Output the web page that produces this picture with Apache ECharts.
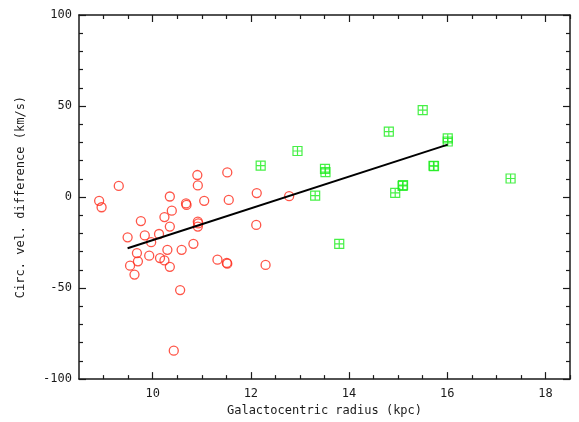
<!DOCTYPE html>
<html>
<head>
<meta charset="UTF-8">
<script src="https://cdn.jsdelivr.net/npm/echarts@6/dist/echarts.min.js"></script>
<title>Circ. vel. difference</title>
<style>
body {
	margin: 0;
	background: #fff;
}

#main {
	width: 579px;
	height: 422px;
}
</style>
</head>
<body>
	<div id="main"></div>
	<script>
		// red circles: radius (kpc), velocity difference (km/s)
		var redR = [8.91, 8.96, 9.31, 9.49, 9.54, 9.63, 9.68, 9.70, 9.76, 9.84,
				9.93, 9.97, 10.13, 10.15, 10.24, 10.30, 10.35, 10.24, 10.35, 10.39,
				10.35, 10.43, 10.56, 10.59, 10.68, 10.69, 10.83, 10.91, 10.92, 10.92,
				10.93, 10.92, 11.05, 11.32, 11.51, 11.52, 11.52, 11.55, 12.12, 12.11,
				12.30, 12.78];
		var redDv = [-2.1, -5.6, 6.1, -22.1, -37.7, -42.6, -30.8, -35.3, -13.2, -21.1,
				-32.2, -24.8, -20.3, -33.5, -34.8, -29, -38.3, -11, -16.2, -7.5,
				0.3, -84.4, -51.1, -29, -3.5, -4.3, -25.7, 12.1, 6.4, -13.5,
				-14.5, -16.2, -2.1, -34.4, -36.2, -36.6, 13.5, -1.6, 2.2, -15.3,
				-37.3, 0.5];

		// green squares
		var greenR = [12.20, 12.95, 13.31, 13.51, 13.52, 13.80, 14.81, 14.94, 15.09, 15.10,
				15.50, 15.72, 15.73, 16.01, 16.01, 17.29];
		var greenDv = [17.3, 25.3, 0.8, 15.5, 13.7, -25.7, 35.9, 2.3, 6.1, 6.5,
				47.7, 17.2, 17.0, 32.2, 30.5, 10.2];

		// fitted line
		var fitR = [9.49, 16.01];
		var fitDv = [-28.1, 28.8];

		var xMajor = [10, 12, 14, 16, 18];
		var xMinor = [9, 9.5, 10.5, 11, 11.5, 12.5, 13, 13.5, 14.5, 15, 15.5, 16.5, 17, 17.5, 18.5];

		function pairs(a, b) {
			return a.map(function(v, i) {
				return [v, b[i]];
			});
		}

		var font = 'DejaVu Sans Mono';
		var ink = '#1a1a1a';

		function xAxisDef(pos, major, labels) {
			return {
				type : 'value',
				position : pos,
				min : 8.5,
				max : 18.5,
				interval : 0.5,
				axisLine : {
					show : major,
					onZero : false,
					lineStyle : {
						color : ink,
						width : 1.5
					}
				},
				axisTick : {
					show : true,
					inside : true,
					length : major ? 7 : 4,
					customValues : major ? xMajor : xMinor,
					lineStyle : {
						color : ink,
						width : 1.2
					}
				},
				axisLabel : {
					show : labels,
					customValues : xMajor,
					margin : 9,
					color : ink,
					fontFamily : font,
					fontSize : 12
				},
				splitLine : {
					show : false
				}
			};
		}

		function yAxisDef(pos, labels) {
			return {
				type : 'value',
				position : pos,
				min : -100,
				max : 100,
				interval : 50,
				name : labels ? 'Circ. vel. difference (km/s)' : '',
				nameLocation : 'middle',
				nameGap : 52,
				nameTextStyle : {
					color : ink,
					fontFamily : font,
					fontSize : 12
				},
				axisLine : {
					show : true,
					onZero : false,
					lineStyle : {
						color : ink,
						width : 1.5
					}
				},
				axisTick : {
					inside : true,
					length : 7,
					lineStyle : {
						color : ink,
						width : 1.2
					}
				},
				minorTick : {
					show : true,
					splitNumber : 5,
					length : 4,
					lineStyle : {
						color : ink,
						width : 1.2
					}
				},
				axisLabel : {
					show : labels,
					margin : 7,
					color : ink,
					fontFamily : font,
					fontSize : 12
				},
				splitLine : {
					show : false
				}
			};
		}

		var xBottom = xAxisDef('bottom', true, true);
		xBottom.name = 'Galactocentric radius (kpc)';
		xBottom.nameLocation = 'middle';
		xBottom.nameGap = 23;
		xBottom.nameTextStyle = {
			color : ink,
			fontFamily : font,
			fontSize : 12
		};

		var option = {
			animation : false,
			backgroundColor : '#fff',
			grid : {
				left : 79,
				right : 9,
				top : 15,
				bottom : 40
			},
			xAxis : [ xBottom, xAxisDef('bottom', false, false),
					xAxisDef('top', true, false), xAxisDef('top', false, false) ],
			yAxis : [ yAxisDef('left', true), yAxisDef('right', false) ],
			series : [ {
				type : 'scatter',
				data : pairs(redR, redDv),
				symbol : 'circle',
				symbolSize : 9,
				itemStyle : {
					color : 'rgba(0,0,0,0)',
					borderColor : '#ff2a1a',
					borderWidth : 1.3
				}
			}, {
				type : 'scatter',
				data : pairs(greenR, greenDv),
				symbol : 'path://M0,0H10V10H0Z M5,0V10 M0,5H10',
				symbolSize : 9,
				itemStyle : {
					color : 'rgba(0,0,0,0)',
					borderColor : '#18ec18',
					borderWidth : 1.2
				}
			}, {
				type : 'line',
				data : pairs(fitR, fitDv),
				symbol : 'none',
				lineStyle : {
					color : '#000',
					width : 2
				}
			} ]
		};

		var mychart = echarts.init(document.getElementById('main'));
		mychart.setOption(option);
	</script>
</body>
</html>
